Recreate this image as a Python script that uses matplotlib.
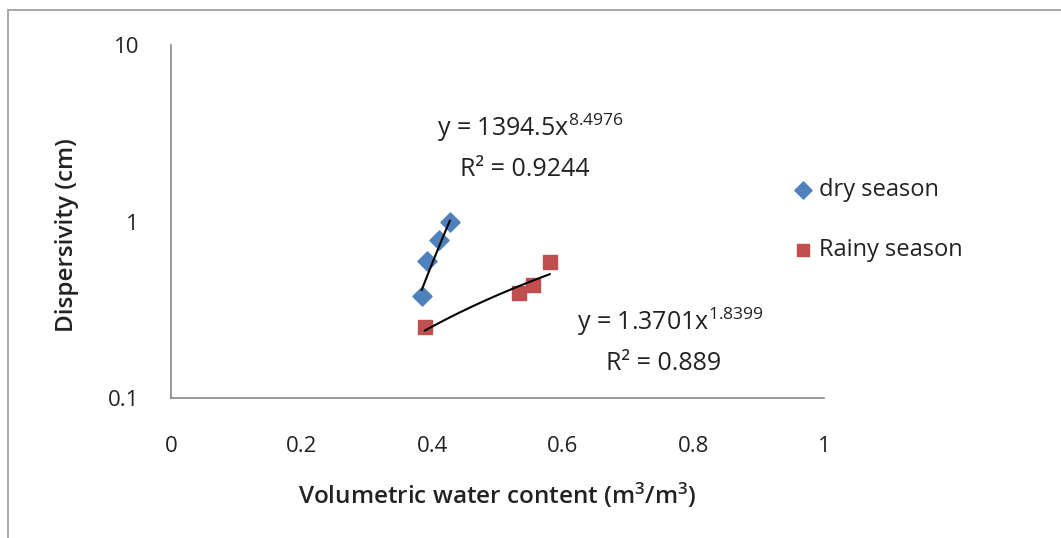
import numpy as np
import matplotlib.pyplot as plt
from matplotlib.patches import Rectangle

plt.rcParams['font.family'] = ['Open Sans', 'DejaVu Sans']
plt.rcParams['mathtext.default'] = 'regular'

# dry season
dry_theta = [0.384, 0.392, 0.410, 0.427]
dry_disp = [0.376, 0.60, 0.79, 1.0]

# rainy season
rainy_theta = [0.389, 0.533, 0.554, 0.580]
rainy_disp = [0.254, 0.396, 0.434, 0.593]

# power trendlines y = a * x^b
dry_a, dry_b, dry_r2 = 1394.5, 8.4976, 0.9244
rainy_a, rainy_b, rainy_r2 = 1.3701, 1.8399, 0.889

blue = '#4F81BD'
red = '#C0504D'
txt = '#222222'

fig = plt.figure(figsize=(10.61, 5.38), dpi=100)
W, H = 1061, 538
fig.patches.append(Rectangle((8 / W, -0.1), 1.2, 1 - 10 / H + 0.1, transform=fig.transFigure,
                             fill=False, edgecolor='#999999', linewidth=1.2))

ax = fig.add_axes([171 / W, 1 - 398 / H, (824 - 171) / W, (398 - 45) / H])

ax.scatter(dry_theta, dry_disp, marker='D', s=95, color=blue, label='dry season', zorder=2)
ax.scatter(rainy_theta, rainy_disp, marker='s', s=95, color=red, label='Rainy season', zorder=2)

xs = np.linspace(min(dry_theta), max(dry_theta), 50)
ax.plot(xs, dry_a * xs ** dry_b, color='black', lw=1.5, zorder=3)
xs = np.linspace(min(rainy_theta), max(rainy_theta), 50)
ax.plot(xs, rainy_a * xs ** rainy_b, color='black', lw=1.5, zorder=3)

ax.set_yscale('log')
ax.set_xlim(0, 1)
ax.set_ylim(0.1, 10)
ax.set_xticks([0, 0.2, 0.4, 0.6, 0.8, 1])
ax.set_xticklabels(['0', '0.2', '0.4', '0.6', '0.8', '1'])
ax.set_yticks([0.1, 1, 10])
ax.set_yticklabels(['0.1', '1', '10'])
ax.minorticks_off()
ax.tick_params(length=0, labelsize=16, colors=txt)
ax.tick_params(axis='x', pad=27)
ax.tick_params(axis='y', pad=23)
for s in ['top', 'right']:
    ax.spines[s].set_visible(False)
for s in ['left', 'bottom']:
    ax.spines[s].set_color('#888888')
    ax.spines[s].set_linewidth(1.2)

ax.set_xlabel('Volumetric water content (m$^3$/m$^3$)', fontsize=17.5, fontweight='semibold',
              color=txt)
ax.set_ylabel('Dispersivity (cm)', fontsize=17.5, fontweight='semibold', color=txt)
ax.xaxis.set_label_coords(0.5, -(495 - 398) / 353)
ax.yaxis.set_label_coords((67 - 171) / 653, (398 - 235) / 353)
ax.xaxis.label.set_va('center')
ax.yaxis.label.set_va('center')

ax.text(437 / W, 1 - 128 / H, 'y = %.1fx$^{%.4f}$' % (dry_a, dry_b), transform=fig.transFigure,
        fontsize=18, va='center', ha='left', color=txt)
ax.text(525 / W, 1 - 170 / H, 'R² = %.4f' % dry_r2, transform=fig.transFigure,
        fontsize=18, va='center', ha='center', color=txt)
ax.text(577 / W, 1 - 322 / H, 'y = %.4fx$^{%.4f}$' % (rainy_a, rainy_b), transform=fig.transFigure,
        fontsize=18, va='center', ha='left', color=txt)
ax.text(664 / W, 1 - 363 / H, 'R² = %.3f' % rainy_r2, transform=fig.transFigure,
        fontsize=18, va='center', ha='center', color=txt)

fig.legend(loc='center left', bbox_to_anchor=(758 / W, 1 - 220 / H), frameon=False,
           fontsize=17, labelspacing=1.55, handletextpad=-0.3, markerscale=0.9,
           labelcolor=txt)

fig.savefig('out.png', dpi=100)
